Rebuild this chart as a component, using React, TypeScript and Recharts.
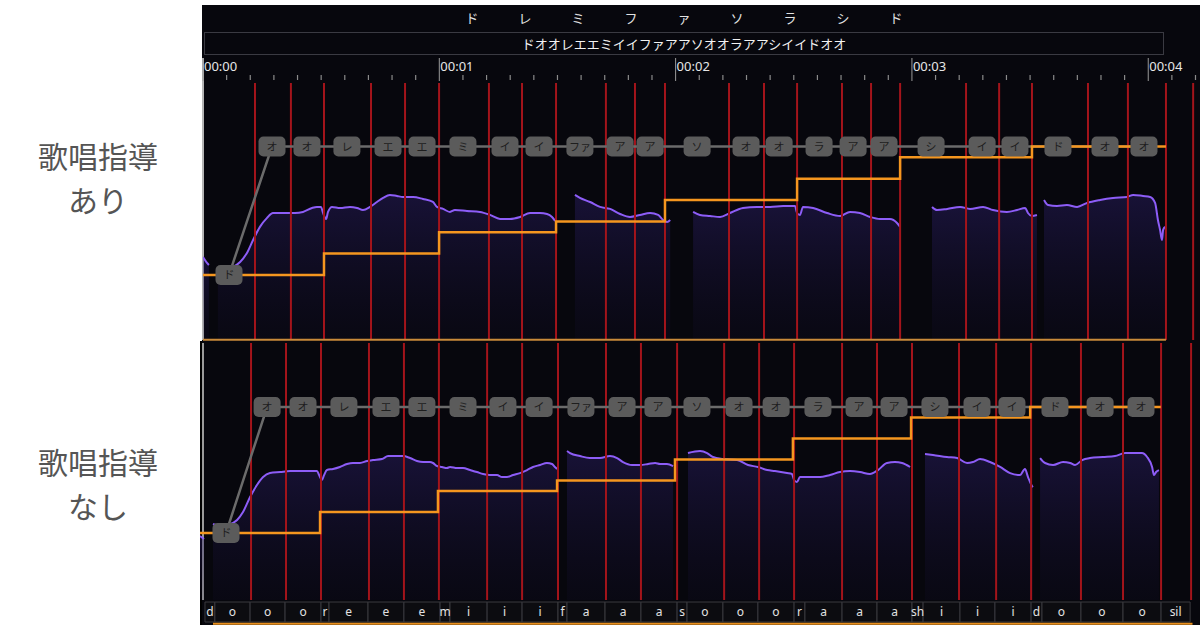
import React from "react";
import {
  ComposedChart,
  Area,
  Line,
  Scatter,
  XAxis,
  YAxis,
  ReferenceLine,
  ReferenceArea,
} from "recharts";

type Pt = [number, number];

// header rows
const noteNames = ["ド", "レ", "ミ", "フ", "ァ", "ソ", "ラ", "シ", "ド"];
const lyricLine = "ドオオレエエミイイファアアソオオラアアシイイドオオ";
const timeLabels = ["00:00", "00:01", "00:02", "00:03", "00:04"];
const sideLabels = [
  ["歌唱指導", "あり"],
  ["歌唱指導", "なし"],
];

// lyrics (one box per mora) and the scale, shared by both takes
const lyrics = [
  "ド", "オ", "オ", "レ", "エ", "エ", "ミ", "イ", "イ", "ファ", "ア", "ア",
  "ソ", "オ", "オ", "ラ", "ア", "ア", "シ", "イ", "イ", "ド", "オ", "オ",
];
const lyricLevels = [
  60, 72, 72, 72, 72, 72, 72, 72, 72, 72, 72, 72,
  72, 72, 72, 72, 72, 72, 72, 72, 72, 72, 72, 72,
];
const scalePitches = [60, 62, 64, 65, 67, 69, 71, 72];

// 歌唱指導あり (seconds / MIDI note)
const withNoteStarts = [0, 0.512, 0.999, 1.494, 1.955, 2.514, 2.95, 3.508, 4.075];
const withLyricTimes = [
  0.11, 0.292, 0.44, 0.609, 0.783, 0.927, 1.1, 1.278, 1.422, 1.595, 1.765, 1.892,
  2.091, 2.298, 2.438, 2.607, 2.751, 2.882, 3.081, 3.297, 3.436, 3.618, 3.817, 3.982,
];
const withBoundaries = [
  0.22, 0.372, 0.512, 0.711, 0.855, 0.999, 1.21, 1.35, 1.494, 1.705, 1.828, 1.955,
  2.226, 2.374, 2.514, 2.704, 2.827, 2.95, 3.229, 3.369, 3.508, 3.745, 3.914, 4.075, 4.19,
];
const withPitch: Pt[][] = [
  [[0, 61.68], [0.017, 61.12], [0.025, 60.93]],
  [
    [0.063, 60.47], [0.102, 60.56], [0.127, 60.75], [0.157, 61.21], [0.186, 62.06],
    [0.212, 63.27], [0.241, 64.49], [0.271, 65.33], [0.296, 65.79], [0.339, 65.79],
    [0.389, 65.79], [0.423, 65.89], [0.461, 66.26], [0.482, 66.36], [0.499, 66.36],
    [0.508, 65.79], [0.521, 65.23], [0.529, 65.89], [0.546, 66.36], [0.58, 66.26],
    [0.622, 66.36], [0.652, 66.26], [0.677, 66.07], [0.707, 66.36], [0.736, 66.82],
    [0.762, 67.2], [0.791, 67.48], [0.821, 67.38], [0.846, 67.29], [0.889, 67.29],
    [0.931, 67.1], [0.973, 66.82], [0.99, 66.36], [1.016, 66.17], [1.045, 65.89],
    [1.066, 66.07], [1.117, 65.98], [1.172, 65.89], [1.215, 65.61], [1.257, 65.23],
    [1.299, 65.23], [1.342, 65.42], [1.384, 65.79], [1.426, 65.79], [1.456, 65.7],
    [1.477, 65.42], [1.49, 65.05],
  ],
  [
    [1.574, 67.48], [1.595, 67.2], [1.638, 66.82], [1.68, 66.36], [1.723, 66.17],
    [1.765, 65.7], [1.807, 65.42], [1.849, 65.61], [1.892, 65.79], [1.926, 65.61],
    [1.947, 65.14], [1.964, 64.95], [1.977, 65.14],
  ],
  [
    [2.074, 65.89], [2.103, 65.61], [2.146, 65.51], [2.188, 65.42], [2.23, 65.79],
    [2.285, 66.26], [2.344, 66.36], [2.4, 66.36], [2.455, 66.45], [2.505, 66.45],
    [2.514, 65.79], [2.526, 65.61], [2.539, 66.36], [2.582, 66.26], [2.641, 65.79],
    [2.696, 65.51], [2.738, 65.89], [2.78, 65.79], [2.823, 65.42], [2.865, 65.23],
    [2.907, 65.23], [2.937, 64.86], [2.95, 64.49],
  ],
  [
    [3.085, 66.36], [3.106, 66.07], [3.149, 66.17], [3.204, 66.36], [3.246, 66.17],
    [3.301, 66.36], [3.343, 66.07], [3.402, 65.89], [3.445, 66.07], [3.479, 66.26],
    [3.491, 65.79], [3.508, 65.51], [3.529, 65.61],
  ],
  [
    [3.559, 67.01], [3.576, 66.54], [3.614, 66.45], [3.656, 66.54], [3.699, 66.36],
    [3.741, 66.73], [3.796, 67.01], [3.851, 67.2], [3.91, 67.29], [3.936, 67.48],
    [3.978, 67.38], [4.008, 67.29], [4.029, 66.73], [4.041, 65.14], [4.05, 64.21],
    [4.058, 63.27], [4.063, 64.21], [4.071, 64.49],
  ],
];

// 歌唱指導なし
const withoutNoteStarts = [0, 0.508, 1.007, 1.511, 2.01, 2.509, 3.009, 3.513, 4.066];
const withoutLyricTimes = [
  0.11, 0.284, 0.436, 0.609, 0.787, 0.939, 1.113, 1.282, 1.435, 1.612, 1.786, 1.938,
  2.103, 2.281, 2.438, 2.615, 2.789, 2.937, 3.11, 3.288, 3.436, 3.618, 3.809, 3.982,
];
const withoutBoundaries = [
  0.216, 0.364, 0.512, 0.715, 0.863, 1.011, 1.215, 1.363, 1.515, 1.718, 1.866, 2.019,
  2.218, 2.366, 2.514, 2.717, 2.865, 3.013, 3.212, 3.369, 3.517, 3.728, 3.906, 4.067, 4.194,
];
const withoutPitch: Pt[][] = [
  [[0, 59.71], [0.017, 59.43]],
  [
    [0.055, 60.86], [0.085, 60.67], [0.118, 60.76], [0.157, 61.24], [0.182, 62.0],
    [0.212, 63.43], [0.241, 64.57], [0.267, 65.33], [0.296, 65.71], [0.339, 65.81],
    [0.381, 65.9], [0.423, 65.9], [0.466, 65.9], [0.495, 65.9], [0.504, 65.52],
    [0.516, 65.05], [0.525, 65.52], [0.537, 66.0], [0.563, 66.1], [0.592, 66.29],
    [0.622, 66.57], [0.647, 66.67], [0.677, 66.67], [0.707, 66.86], [0.732, 66.95],
    [0.77, 67.05], [0.796, 67.33], [0.834, 67.33], [0.859, 67.33], [0.889, 67.14],
    [0.918, 66.86], [0.944, 66.76], [0.973, 66.76], [0.986, 66.67], [1.003, 66.38],
    [1.024, 66.29], [1.045, 66.19], [1.058, 66.29], [1.088, 66.19], [1.113, 66.19],
    [1.143, 66.0], [1.172, 65.81], [1.198, 65.62], [1.227, 65.52], [1.257, 65.52],
    [1.278, 65.33], [1.299, 65.33], [1.325, 65.52], [1.354, 65.71], [1.384, 66.0],
    [1.409, 66.29], [1.439, 66.48], [1.468, 66.67], [1.49, 66.57], [1.502, 66.29],
    [1.511, 66.1],
  ],
  [
    [1.553, 67.81], [1.566, 67.62], [1.608, 67.33], [1.65, 67.14], [1.693, 67.14],
    [1.735, 67.33], [1.765, 67.14], [1.79, 66.76], [1.828, 66.48], [1.862, 66.48],
    [1.896, 66.57], [1.926, 66.67], [1.947, 66.57], [1.976, 66.57], [2.002, 66.38],
  ],
  [
    [2.065, 67.62], [2.116, 67.81], [2.146, 67.62], [2.171, 67.24], [2.213, 67.05],
    [2.273, 66.95], [2.319, 66.48], [2.361, 66.29], [2.4, 66.0], [2.433, 65.9],
    [2.484, 65.71], [2.505, 65.62], [2.514, 65.05], [2.526, 64.86], [2.539, 65.33],
    [2.569, 65.33], [2.615, 65.33], [2.666, 65.52], [2.708, 65.81], [2.751, 65.9],
    [2.793, 65.81], [2.835, 65.62], [2.869, 66.0], [2.907, 66.67], [2.941, 66.76],
    [2.971, 66.67], [3.005, 66.29],
  ],
  [
    [3.068, 67.52], [3.102, 67.43], [3.161, 67.24], [3.204, 67.14], [3.246, 66.67],
    [3.271, 66.76], [3.301, 67.05], [3.343, 66.76], [3.386, 66.29], [3.428, 65.71],
    [3.47, 65.52], [3.491, 66.1], [3.504, 65.33], [3.521, 64.48], [3.525, 64.38],
  ],
  [
    [3.555, 67.14], [3.576, 66.67], [3.61, 66.48], [3.652, 66.76], [3.682, 66.67],
    [3.703, 66.48], [3.733, 66.95], [3.766, 67.14], [3.821, 67.24], [3.872, 67.33],
    [3.915, 67.62], [3.948, 67.62], [3.986, 67.62], [4.008, 67.24], [4.029, 66.29],
    [4.037, 65.52], [4.046, 65.81], [4.058, 66.0],
  ],
];

// phoneme row under the second take
const phonemes = [
  "d", "o", "o", "o", "r", "e", "e", "e", "m", "i", "i", "i", "f", "a", "a", "a", "s",
  "o", "o", "o", "r", "a", "a", "a", "sh", "i", "i", "i", "d", "o", "o", "o", "sil",
];
const phonemeEdges = [
  0.021, 0.063, 0.212, 0.36, 0.512, 0.546, 0.711, 0.863, 1.016, 1.058, 1.215, 1.363,
  1.515, 1.553, 1.714, 1.866, 2.019, 2.061, 2.213, 2.361, 2.514, 2.56, 2.717, 2.865,
  3.013, 3.06, 3.216, 3.364, 3.517, 3.563, 3.728, 3.906, 4.067, 4.19,
];

const FONT = "'Noto Sans CJK JP', 'Noto Sans', sans-serif";
const BG = "#07070d";
const timeTicks: number[] = [];
for (let i = 0; i <= 42; i++) timeTicks.push(i / 10);

const TimeTick = (props: any) => {
  const { x, payload } = props;
  const v = payload.value;
  const sec = Math.round(v);
  if (Math.abs(v - sec) < 1e-6) {
    return (
      <g>
        <line x1={x} x2={x} y1={58} y2={81} stroke="#9a9a9a" strokeWidth={1} />
        <text x={x + 1} y={71} fill="#e6e6e6" fontSize={13} fontFamily="'Noto Sans', sans-serif">
          {timeLabels[sec]}
        </text>
      </g>
    );
  }
  return <line x1={x} x2={x} y1={75} y2={80} stroke="#8a8a8a" strokeWidth={1.2} />;
};

const LyricBox = (props: any) => {
  const { cx, cy, payload } = props;
  return (
    <g>
      <rect x={cx - 13.5} y={cy - 10} width={27} height={20} rx={5} fill="#5b5b5b" />
      <text x={cx} y={cy + 4} textAnchor="middle" fontSize={11} fill="#1e1e1e" fontFamily={FONT}>
        {payload.text}
      </text>
    </g>
  );
};

type PanelProps = {
  pitch: Pt[][];
  noteStarts: number[];
  lyricTimes: number[];
  boundaries: number[];
  yDomain: [number, number];
  height: number;
  margin: { top: number; right: number; bottom: number; left: number };
  gradId: string;
  timeline: boolean;
  baseLine?: boolean;
};

function PitchPanel(p: PanelProps) {
  const notes = p.noteStarts.map((t, i) => ({
    t,
    m: scalePitches[Math.min(i, scalePitches.length - 1)],
  }));
  const lyricPts = p.lyricTimes.map((t, i) => ({ t, m: lyricLevels[i], text: lyrics[i] }));
  const lastNote = p.noteStarts[p.noteStarts.length - 1];
  return (
    <ComposedChart width={1200} height={p.height} margin={p.margin} style={{ fontFamily: FONT }}>
      <defs>
        <linearGradient id={p.gradId} x1="0" y1="0" x2="0" y2="1">
          <stop offset="0%" stopColor="#2f2170" stopOpacity={0.42} />
          <stop offset="100%" stopColor="#1a1240" stopOpacity={0.12} />
        </linearGradient>
      </defs>
      <XAxis
        type="number"
        dataKey="t"
        domain={[0, 4.2]}
        allowDataOverflow
        orientation="top"
        hide={!p.timeline}
        ticks={timeTicks}
        interval={0}
        tick={TimeTick}
        tickLine={false}
        axisLine={false}
        height={25}
      />
      <YAxis type="number" dataKey="m" domain={p.yDomain} allowDataOverflow hide />
      {p.boundaries.map((b, i) => (
        <ReferenceLine key={`b${i}`} x={b} stroke="#a3141b" strokeWidth={2} />
      ))}
      {p.pitch.map((seg, i) => (
        <Area
          key={`s${i}`}
          data={seg.map(([t, m]) => ({ t, m }))}
          dataKey="m"
          type="monotone"
          stroke="#8d5df7"
          strokeWidth={2}
          fill={`url(#${p.gradId})`}
          fillOpacity={1}
          dot={false}
          activeDot={false}
          isAnimationActive={false}
        />
      ))}
      {p.baseLine && (
        <ReferenceLine
          segment={[
            { x: 0, y: p.yDomain[0] + 0.03 },
            { x: lastNote, y: p.yDomain[0] + 0.03 },
          ]}
          stroke="#c98a3a"
          strokeWidth={2}
        />
      )}
      <Line
        data={lyricPts}
        dataKey="m"
        type="linear"
        stroke="#6b6b6b"
        strokeWidth={2.5}
        dot={false}
        activeDot={false}
        isAnimationActive={false}
      />
      <Line
        data={notes}
        dataKey="m"
        type="stepAfter"
        stroke="#f5961f"
        strokeWidth={2.5}
        dot={false}
        activeDot={false}
        isAnimationActive={false}
      />
      <Scatter data={lyricPts} dataKey="m" shape={LyricBox} isAnimationActive={false} />
    </ComposedChart>
  );
}

function PhonemeRow() {
  return (
    <ComposedChart width={1200} height={25} margin={{ top: 0, right: 7.5, bottom: 0, left: 200 }}>
      <XAxis type="number" dataKey="t" domain={[0, 4.2]} allowDataOverflow hide />
      <YAxis type="number" dataKey="m" domain={[0, 1]} allowDataOverflow hide />
      {phonemes.map((ph, i) => (
        <ReferenceArea
          key={`p${i}`}
          x1={phonemeEdges[i]}
          x2={phonemeEdges[i + 1]}
          y1={0.12}
          y2={0.92}
          fill="#0c0c10"
          fillOpacity={1}
          stroke="#3a3a3f"
          strokeWidth={1}
          ifOverflow="visible"
          label={{ value: ph, position: "center", fill: "#e2e2e2", fontSize: 12, fontFamily: "'Noto Sans', sans-serif" }}
        />
      ))}
      <ReferenceLine
        segment={[
          { x: 0.055, y: 0.05 },
          { x: 4.2, y: 0.05 },
        ]}
        stroke="#e8901e"
        strokeWidth={2}
        ifOverflow="visible"
      />
    </ComposedChart>
  );
}

const sideLine: React.CSSProperties = {
  position: "absolute",
  left: 0,
  width: 196,
  height: 44,
  textAlign: "center",
  fontSize: 30,
  lineHeight: "44px",
  color: "#555",
  fontFamily: FONT,
  whiteSpace: "nowrap",
};

export default function App() {
  return (
    <div style={{ position: "relative", width: 1200, height: 625, background: "#fff", overflow: "hidden" }}>
      <style>{"body{margin:0}"}</style>

      {sideLabels.map((lines, k) =>
        lines.map((txt, j) => (
          <div key={`${k}-${j}`} style={{ ...sideLine, top: (k === 0 ? 133 : 439) + j * 44 }}>
            {txt}
          </div>
        ))
      )}

      {/* panel backgrounds */}
      <div style={{ position: "absolute", left: 202, top: 5, width: 998, height: 336, background: BG }} />
      <div style={{ position: "absolute", left: 202, top: 58, width: 1.5, height: 282, background: "#b5b5b5" }} />
      <div style={{ position: "absolute", left: 200, top: 341, width: 1000, height: 284, background: BG, borderLeft: "2px solid #000", boxSizing: "border-box" }} />
      <div style={{ position: "absolute", left: 202, top: 343, width: 1.5, height: 257, background: "#9a9a9a" }} />

      {/* header */}
      <div style={{ position: "absolute", left: 445.5, top: 8, height: 20, display: "flex", fontFamily: FONT, fontSize: 13, color: "#e2e2e2", lineHeight: "20px" }}>
        {noteNames.map((n, i) => (
          <span key={i} style={{ width: 53, textAlign: "center" }}>
            {n}
          </span>
        ))}
      </div>
      <div
        style={{
          position: "absolute",
          left: 204,
          top: 32,
          width: 960,
          height: 23,
          border: "1px solid #3a3a42",
          boxSizing: "border-box",
          textAlign: "center",
          lineHeight: "21px",
          fontSize: 13,
          color: "#f2f2f2",
          fontFamily: FONT,
        }}
      >
        {lyricLine}
      </div>

      <div style={{ position: "absolute", left: 0, top: 0 }}>
        <PitchPanel
          pitch={withPitch}
          noteStarts={withNoteStarts}
          lyricTimes={withLyricTimes}
          boundaries={withBoundaries}
          yDomain={[53.92, 77.94]}
          height={345}
          margin={{ top: 58, right: 4.5, bottom: 5, left: 203 }}
          gradId="fillWith"
          timeline
          baseLine
        />
      </div>
      <div style={{ position: "absolute", left: 0, top: 343 }}>
        <PitchPanel
          pitch={withoutPitch}
          noteStarts={withoutNoteStarts}
          lyricTimes={withoutLyricTimes}
          boundaries={withoutBoundaries}
          yDomain={[53.62, 78.1]}
          height={257}
          margin={{ top: 0, right: 7.5, bottom: 0, left: 200 }}
          gradId="fillWithout"
          timeline={false}
        />
      </div>
      <div style={{ position: "absolute", left: 0, top: 600 }}>
        <PhonemeRow />
      </div>
    </div>
  );
}
